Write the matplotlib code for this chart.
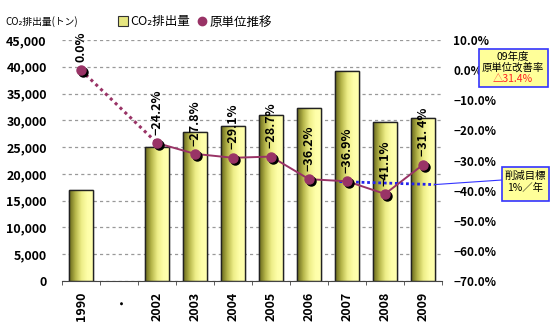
import numpy as np
import matplotlib.pyplot as plt
import matplotlib.transforms as mtransforms
from matplotlib.colors import LinearSegmentedColormap
from matplotlib.lines import Line2D
from matplotlib.patches import Rectangle, Patch

plt.rcParams['font.family'] = ['Noto Sans CJK JP', 'DejaVu Sans']

# データ
categories = ['1990', '・', '2002', '2003', '2004', '2005', '2006', '2007', '2008', '2009']
co2 = [17000, 0, 25000, 27800, 29000, 31000, 32300, 39200, 29700, 30400]
rate = [0.0, np.nan, -24.2, -27.8, -29.1, -28.7, -36.2, -36.9, -41.1, -31.4]
rate_labels = ['0.0%', '', '−24.2%', '−27.8%', '−29.1%', '−28.7%',
               '−36.2%', '−36.9%', '−41.1%', '−31. 4%']
target_pos = [6.8, 9.3]
target_rate = [-37.0, -38.0]
left_ticks = np.arange(0, 45001, 5000)
right_ticks = np.arange(-70, 11, 10)

maroon = '#993366'
x = np.arange(len(categories))

fig = plt.figure(figsize=(5.5, 3.33), dpi=100)
ax = fig.add_axes([62/550, 1 - 281/333, 380/550, 241/333])
ax2 = ax.twinx()

# 棒グラフ (グラデーション)
bars = ax.bar(x, co2, width=0.65, color='#e6e680', edgecolor='#222222', lw=0.9, zorder=2)
cmap = LinearSegmentedColormap.from_list('olive', ['#66661a', '#b5b54a', '#eeee88', '#ffffaa', '#ffffb0'])
grad = np.linspace(0, 1, 64).reshape(1, -1)
for b in bars:
    if b.get_height() <= 0:
        b.set_visible(False)
        continue
    im = ax.imshow(grad, extent=[b.get_x(), b.get_x() + b.get_width(), 0, b.get_height()],
                   aspect='auto', cmap=cmap, zorder=2.1)
    im.set_clip_path(b)
    edge = Rectangle((b.get_x(), 0), b.get_width(), b.get_height(), fill=False,
                     edgecolor='#222222', lw=1.0, zorder=2.2)
    ax.add_patch(edge)

ax.set_xlim(-0.5, 9.5)
ax.set_ylim(0, 45000)
ax.set_yticks(left_ticks)
ax.set_yticklabels([f'{v:,}' for v in left_ticks], fontweight='bold')
ax.yaxis.grid(True, color='#999999', ls=(0, (2.5, 2.5)), lw=0.9)
ax.set_axisbelow(True)
ax.set_xticks(x)
ax.set_xticklabels(categories, rotation=90, fontsize=9, fontweight='bold')
ax.set_xticks(np.arange(-0.5, 10, 1), minor=True)
ax.tick_params(axis='x', which='major', length=0, pad=8)
ax.tick_params(axis='x', which='minor', length=3, color='#444444')
ax.tick_params(axis='y', length=0, pad=11, labelsize=9)
for s in ['top', 'left', 'right']:
    ax.spines[s].set_visible(False)
ax.spines['bottom'].set_color('#444444')

# 原単位推移
ax2.set_ylim(-70, 10)
ax2.set_yticks(right_ticks)
ax2.set_yticklabels([f'{v:.1f}%'.replace('-', '−') for v in right_ticks], fontweight='bold')
ax2.tick_params(axis='y', length=0, pad=8, labelsize=8.5)
for s in ax2.spines.values():
    s.set_visible(False)

ax2.plot(target_pos, target_rate, color='#2222ee', ls=(0, (1, 1)), lw=2, zorder=3)
ax2.plot([x[0], x[2]], [rate[0], rate[2]], color=maroon, ls=(0, (1, 1.2)), lw=2.2, zorder=4)
ax2.plot(x[2:], rate[2:], color=maroon, lw=1.4, zorder=4)
shadow = mtransforms.offset_copy(ax2.transData, fig=fig, x=1.5, y=-1.5, units='points')
ax2.plot(x, rate, ls='none', marker='o', ms=6.5, color='black', transform=shadow, zorder=4.5)
ax2.plot(x, rate, ls='none', marker='o', ms=6.5, color=maroon, zorder=5)

for xi, r, lbl in zip(x, rate, rate_labels):
    if lbl:
        ax2.annotate(lbl, (xi, r), xytext=(0, 6), textcoords='offset points',
                     rotation=90, ha='center', va='bottom', fontsize=9, fontweight='bold', zorder=6)

# 注記
ax2.annotate('', xy=(target_pos[-1], target_rate[-1]), xytext=(502/550, 1 - 180/333),
             textcoords='figure fraction', annotation_clip=False,
             arrowprops=dict(arrowstyle='-', color='#3333ff', lw=0.8, shrinkA=0, shrinkB=0))

fig.add_artist(Rectangle((479/550, 1 - 87/333), 69/550, 38/333, transform=fig.transFigure,
                         facecolor='#ffff99', edgecolor='#3333ff', lw=1.2))
fig.text(513/550, 1 - 57/333, '09年度', ha='center', va='center', fontsize=7.5)
fig.text(513/550, 1 - 68/333, '原単位改善率', ha='center', va='center', fontsize=7.5)
fig.text(513/550, 1 - 79/333, '△31.4%', ha='center', va='center', fontsize=7.5, color='#ff2222')

fig.add_artist(Rectangle((502/550, 1 - 201/333), 47/550, 34/333, transform=fig.transFigure,
                         facecolor='#ffff99', edgecolor='#3333ff', lw=1.2))
fig.text(525/550, 1 - 176/333, '削減目標', ha='center', va='center', fontsize=7.5)
fig.text(525/550, 1 - 188/333, '1%／年', ha='center', va='center', fontsize=7.5)

# 凡例
handles = [Patch(facecolor='#e6e680', edgecolor='#333333', lw=0.8),
           Line2D([], [], ls='none', marker='o', ms=6, color=maroon)]
fig.legend(handles, ['CO₂排出量', '原単位推移'], loc='center', bbox_to_anchor=(195/550, 1 - 22/333),
           ncol=2, frameon=False, fontsize=9, handlelength=0.8, handleheight=0.8,
           handletextpad=0.2, columnspacing=0.6, borderaxespad=0)
fig.text(5/550, 1 - 22/333, 'CO₂排出量(トン)', ha='left', va='center', fontsize=7)

fig.savefig('out.png', dpi=100)
